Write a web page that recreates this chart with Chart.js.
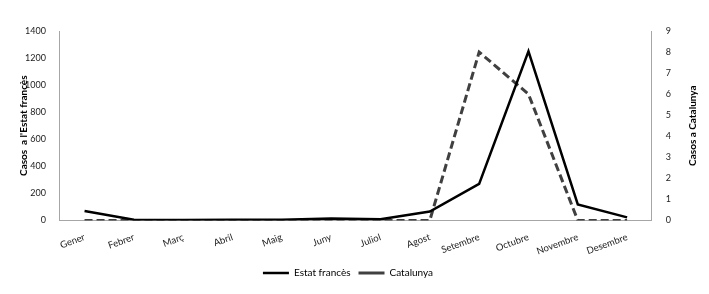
<!DOCTYPE html>
<html>
<head>
<meta charset="utf-8">
<script src="https://cdn.jsdelivr.net/npm/chart.js@4.4.0/dist/chart.umd.min.js"></script>
<style>
  html, body { margin: 0; padding: 0; background: #fff; }
  #wrap { width: 709px; height: 294px; position: relative; }
</style>
</head>
<body>
<div id="wrap"><canvas id="chart"></canvas></div>
<script>
const months = ['Gener', 'Febrer', 'Març', 'Abril', 'Maig', 'Juny', 'Juliol', 'Agost', 'Setembre', 'Octubre', 'Novembre', 'Desembre'];
const estatFrances = [70, 5, 2, 5, 5, 14, 8, 65, 270, 1250, 118, 22];
const catalunya = [0, 0, 0, 0, 0, 0, 0, 0, 8, 6, 0, 0];
const leftTitle = "Casos  a l'Estat francès";
const rightTitle = 'Casos a Catalunya';

const FONT = 'Lato, "Open Sans", sans-serif';

// draws both axis titles reading bottom to top (chart.js flips the right one)
const axisTitles = {
  id: 'axisTitles',
  afterDraw(chart) {
    const ctx = chart.ctx;
    const area = chart.chartArea;
    const cy = (area.top + area.bottom) / 2;
    ctx.save();
    ctx.fillStyle = '#000';
    ctx.font = 'bold 10px ' + FONT;
    ctx.textAlign = 'center';
    ctx.textBaseline = 'middle';
    [[24, leftTitle], [chart.scales.y1.right + 16, rightTitle]].forEach(([x, t]) => {
      ctx.save();
      ctx.translate(x, cy);
      ctx.rotate(-Math.PI / 2);
      ctx.fillText(t, 0, 0);
      ctx.restore();
    });
    ctx.restore();
  }
};

new Chart(document.getElementById('chart'), {
  type: 'line',
  data: {
    labels: months,
    datasets: [
      { label: 'Estat francès', data: estatFrances, yAxisID: 'y', borderColor: '#000', borderWidth: 2.5, pointRadius: 0, tension: 0 },
      { label: 'Catalunya', data: catalunya, yAxisID: 'y1', borderColor: '#404040', borderWidth: 3, borderDash: [8, 4], pointRadius: 0, tension: 0 }
    ]
  },
  options: {
    responsive: true,
    maintainAspectRatio: false,
    animation: false,
    layout: { padding: { left: 19, right: 32, top: 31, bottom: 6 } },
    scales: {
      x: {
        offset: true,
        grid: { display: false },
        border: { display: true, color: '#a6a6a6', width: 1 },
        ticks: { color: '#222', font: { family: FONT, size: 9.5 }, minRotation: 20, maxRotation: 20, padding: 3 }
      },
      y: {
        position: 'left',
        min: 0, max: 1400,
        grid: { display: false },
        border: { display: true, color: '#a6a6a6', width: 1 },
        ticks: { stepSize: 200, color: '#222', font: { family: FONT, size: 9 }, padding: 6, callback: v => String(v) }
      },
      y1: {
        position: 'right',
        min: 0, max: 9,
        grid: { display: false },
        border: { display: true, color: '#a6a6a6', width: 1 },
        ticks: { stepSize: 1, color: '#222', font: { family: FONT, size: 9 }, padding: 6 }
      }
    },
    plugins: {
      legend: {
        position: 'bottom',
        labels: {
          color: '#000',
          font: { family: FONT, size: 10 },
          usePointStyle: true,
          pointStyle: 'line',
          pointStyleWidth: 26,
          boxHeight: 10,
          padding: 8
        }
      },
      tooltip: { enabled: false }
    }
  },
  plugins: [axisTitles]
});
</script>
</body>
</html>
